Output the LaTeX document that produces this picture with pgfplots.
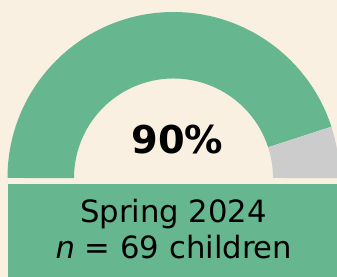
\documentclass[border=0pt]{standalone}
\usepackage{pgfplots}
\pgfplotsset{compat=1.18}
\usepackage{pgfplotstable}
\usepackage{fontspec}
\setmainfont{DejaVu Sans}
\definecolor{bg}{HTML}{F9F0E1}
\definecolor{gr}{HTML}{66B690}
\definecolor{gy}{HTML}{CCCCCC}
\pgfplotstableread{
label value
done 90
rest 10
}\gaugedata
\begin{document}
\begin{tikzpicture}
\pgfplotstablegetelem{0}{value}\of\gaugedata
\pgfmathsetmacro{\splitang}{180*(1-\pgfplotsretval/100)}
\begin{axis}[x=1bp,y=1bp,xmin=0,xmax=337,ymin=0,ymax=277,hide axis,clip=true]
\fill[bg] (axis cs:0,0) rectangle (axis cs:337,277);
% gauge: center (173.5,99), outer radius 166, inner radius 99.5
\fill[gr] (axis cs:7.5,99) arc[start angle=180, end angle=\splitang, radius=166bp]
  -- (axis cs:{173.5+99.5*cos(\splitang)},{99+99.5*sin(\splitang)})
  arc[start angle=\splitang, end angle=180, radius=99.5bp] -- cycle;
\fill[gy] (axis cs:{173.5+166*cos(\splitang)},{99+166*sin(\splitang)})
  arc[start angle=\splitang, end angle=0, radius=166bp]
  -- (axis cs:273,99)
  arc[start angle=0, end angle=\splitang, radius=99.5bp] -- cycle;
\fill[gr] (axis cs:8,-5) rectangle (axis cs:345,93);
\node[anchor=base, font=\bfseries\fontsize{38.5}{38}\selectfont] at (axis cs:177.5,124) {90\%};
\node[anchor=base, font=\fontsize{30.8}{30}\selectfont] at (axis cs:173.5,54.3) {Spring 2024};
\node[anchor=base, font=\fontsize{30.8}{30}\selectfont] at (axis cs:174,19) {{\itshape n} = 69 children};
\end{axis}
\pgfresetboundingbox
\path (0,0) rectangle (337bp,277bp);
\end{tikzpicture}
\end{document}
